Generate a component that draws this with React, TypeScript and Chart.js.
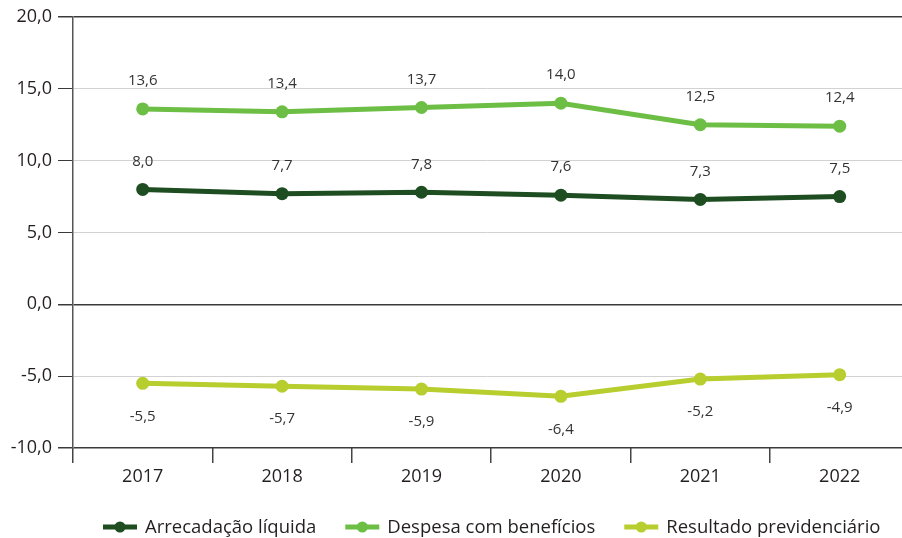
import React, { useEffect, useRef } from "react";
import { Chart, registerables } from "chart.js";

Chart.register(...registerables);

const years = ["2017", "2018", "2019", "2020", "2021", "2022"];
const arrecadacao = [8.0, 7.7, 7.8, 7.6, 7.3, 7.5];
const despesa = [13.6, 13.4, 13.7, 14.0, 12.5, 12.4];
const resultado = [-5.5, -5.7, -5.9, -6.4, -5.2, -4.9];
const seriesNames = ["Arrecadação líquida", "Despesa com benefícios", "Resultado previdenciário"];
const seriesColors = ["#1d4d20", "#6dbe45", "#b8cd2e"];
const yTicksDark = [20, 0, -10];

const FONT = "'Open Sans', sans-serif";
const fmt = (v: number) => v.toFixed(1).replace(".", ",");

const dataLabelPlugin = {
  id: "dataLabels",
  afterDatasetsDraw(chart: any) {
    const ctx = chart.ctx;
    ctx.save();
    ctx.font = `15px ${FONT}`;
    ctx.fillStyle = "#333";
    ctx.textAlign = "center";
    ctx.textBaseline = "middle";
    chart.data.datasets.forEach((ds: any, di: number) => {
      const meta = chart.getDatasetMeta(di);
      meta.data.forEach((pt: any, i: number) => {
        const v = ds.data[i].y;
        const off = v >= 0 ? -28 : 33;
        ctx.fillText(fmt(v), pt.x, pt.y + off);
      });
    });
    ctx.restore();
  },
};

const legendPlugin = {
  id: "customLegend",
  afterDraw(chart: any) {
    const ctx = chart.ctx;
    ctx.save();
    ctx.font = `18.5px ${FONT}`;
    ctx.textBaseline = "middle";
    ctx.textAlign = "left";
    let x = 103;
    const y = 527;
    chart.data.datasets.forEach((ds: any) => {
      ctx.strokeStyle = ds.borderColor;
      ctx.fillStyle = ds.borderColor;
      ctx.lineWidth = 5;
      ctx.beginPath();
      ctx.moveTo(x, y);
      ctx.lineTo(x + 34, y);
      ctx.stroke();
      ctx.beginPath();
      ctx.arc(x + 17, y, 5.5, 0, Math.PI * 2);
      ctx.fill();
      ctx.fillStyle = "#231f20";
      const tx = x + 42;
      ctx.fillText(ds.label, tx, y + 1);
      x = tx + ctx.measureText(ds.label).width + 29;
    });
    ctx.restore();
  },
};

export default function App() {
  const ref = useRef<HTMLCanvasElement | null>(null);

  useEffect(() => {
    if (!ref.current) return;
    const all = [arrecadacao, despesa, resultado];
    const chart = new Chart(ref.current, {
      type: "line",
      data: {
        datasets: all.map((arr, k) => ({
          label: seriesNames[k],
          data: arr.map((v, i) => ({ x: i, y: v })),
          borderColor: seriesColors[k],
          backgroundColor: seriesColors[k],
          pointBackgroundColor: seriesColors[k],
          borderWidth: 5,
          pointRadius: 6.5,
          pointBorderWidth: 0,
          tension: 0,
          fill: false,
        })),
      },
      options: {
        responsive: false,
        animation: false,
        layout: { autoPadding: false, padding: { top: 17, right: 0, bottom: 0, left: 0 } },
        plugins: { legend: { display: false }, tooltip: { enabled: false } },
        scales: {
          x: {
            type: "linear",
            min: -0.5,
            max: 5.447,
            afterBuildTicks: (s: any) => {
              s.ticks = years.map((_, i) => ({ value: i }));
            },
            afterFit: (s: any) => {
              s.height = 90;
              s.paddingLeft = 0;
              s.paddingRight = 0;
            },
            ticks: {
              callback: (v: any) => years[v as number] ?? "",
              font: { family: FONT, size: 18 },
              color: "#231f20",
              padding: 3,
              autoSkip: false,
              maxRotation: 0,
            },
            grid: {
              offset: true,
              drawOnChartArea: false,
              drawTicks: true,
              tickLength: 15,
              color: "#444",
              lineWidth: 1.5,
            },
            border: { display: false },
          },
          y: {
            min: -10,
            max: 20,
            afterFit: (s: any) => {
              s.width = 73;
            },
            ticks: {
              stepSize: 5,
              callback: (v: any) => fmt(Number(v)),
              font: { family: FONT, size: 18 },
              color: "#231f20",
              padding: 6,
            },
            grid: {
              color: (c: any) => (yTicksDark.includes(c.tick?.value) ? "#3a3a3a" : "#d2d2d2"),
              lineWidth: (c: any) => (yTicksDark.includes(c.tick?.value) ? 1.5 : 1),
              tickColor: "#3a3a3a",
              tickLength: 15,
            },
            border: { display: true, color: "#555", width: 1.5 },
          },
        },
      },
      plugins: [dataLabelPlugin, legendPlugin],
    } as any);
    return () => chart.destroy();
  }, []);

  return (
    <div style={{ position: "fixed", left: 0, top: 0, width: 902, height: 538, background: "#fff" }}>
      <canvas ref={ref} width={902} height={538} />
    </div>
  );
}
